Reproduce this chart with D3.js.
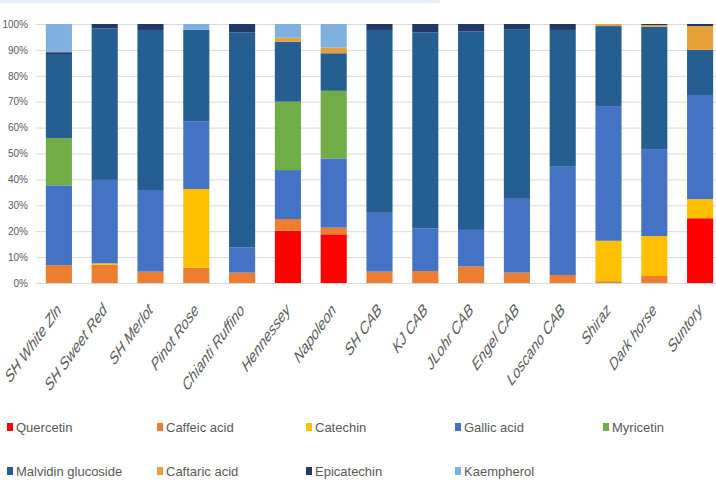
<!DOCTYPE html>
<html>
<head>
<meta charset="utf-8">
<script src="https://cdn.jsdelivr.net/npm/d3@7"></script>
<style>
  html, body { margin: 0; padding: 0; background: #ffffff; }
  svg { display: block; }
  text { font-family: "Liberation Sans", Arial, sans-serif; fill: #595959; }
</style>
</head>
<body>
<svg id="chart" width="716" height="483"></svg>
<script>
const categories = ["SH White Zln", "SH Sweet Red", "SH Merlot", "Pinot Rose", "Chianti Ruffino", "Hennessey", "Napoleon", "SH CAB", "KJ CAB", "JLohr CAB", "Engel CAB", "Loscano CAB", "Shiraz", "Dark horse", "Suntory"];
const seriesNames = ["Quercetin", "Caffeic acid", "Catechin", "Gallic acid", "Myricetin", "Malvidin glucoside", "Caftaric acid", "Epicatechin", "Kaempherol"];
const seriesColors = ["#ff0000", "#ed7d31", "#ffc000", "#4472c4", "#70ad47", "#255e91", "#e8a03a", "#203864", "#7fb0df"];
const quercetin   = [0, 0, 0, 0, 0, 20.2, 18.8, 0, 0, 0, 0, 0, 0, 0, 25];
const caffeicAcid = [6.9, 7, 4.4, 5.9, 4, 4.5, 2.6, 4.4, 4.6, 6.4, 4, 3.1, 0.7, 2.7, 0];
const catechin    = [0, 0.6, 0, 30.4, 0, 0, 0, 0, 0, 0, 0, 0, 15.6, 15.4, 7.4];
const gallicAcid  = [30.8, 32.2, 31.5, 26.2, 9.8, 18.9, 26.7, 22.7, 16.5, 14.1, 28.5, 41.8, 52, 33.6, 40.2];
const myricetin   = [18.3, 0, 0, 0, 0, 26.4, 26.1, 0, 0, 0, 0, 0, 0, 0, 0];
const malvidin    = [32.1, 58.5, 61.8, 35.2, 83, 23.2, 14.5, 70.6, 75.7, 76.6, 65.5, 52.8, 30.9, 47.3, 17.4];
const caftaricAcid= [0, 0, 0, 0, 0, 1.5, 2.2, 0, 0, 0, 0, 0, 0.8, 0.6, 9.2];
const epicatechin = [1, 1.7, 2.3, 0, 3.2, 0, 0, 2.3, 3.2, 2.9, 2, 2.3, 0, 0.4, 0.8];
const kaempherol  = [10.9, 0, 0, 2.3, 0, 5.3, 9.1, 0, 0, 0, 0, 0, 0, 0, 0];
const yTicks = [0, 10, 20, 30, 40, 50, 60, 70, 80, 90, 100];

const seriesValues = [quercetin, caffeicAcid, catechin, gallicAcid, myricetin, malvidin, caftaricAcid, epicatechin, kaempherol];
const table = categories.map((c, i) => {
  const row = { category: c };
  seriesNames.forEach((s, j) => row[s] = seriesValues[j][i]);
  return row;
});

const svg = d3.select("#chart");

// faint slide band at top
svg.append("rect").attr("x", 0).attr("y", 0).attr("width", 440).attr("height", 3).attr("fill", "#e6f0fa");

const plotLeft = 36, plotTop = 24, plotBottom = 283;
const x = d3.scaleBand().domain(categories).range([plotLeft, plotLeft + 15 * 45.8]).paddingInner(0.43).paddingOuter(0.215);
const y = d3.scaleLinear().domain([0, 100]).range([plotBottom, plotTop]);

// gridlines
svg.append("g").selectAll("line").data(yTicks).join("line")
  .attr("x1", plotLeft).attr("x2", 716)
  .attr("y1", d => y(d) + 0.5).attr("y2", d => y(d) + 0.5)
  .attr("stroke", "#d9d9d9").attr("stroke-width", 1);

// y axis labels
const yAxis = d3.axisLeft(y).tickValues(yTicks).tickFormat(d => d + "%").tickSize(0).tickPadding(8);
const ya = svg.append("g").attr("transform", `translate(${plotLeft},0)`).call(yAxis);
ya.select(".domain").remove();
ya.selectAll("text").attr("font-size", 10).style("font-family", "'Liberation Sans', Arial, sans-serif").attr("fill", "#7f7f7f");

// stacks
const stack = d3.stack().keys(seriesNames)(table);
svg.append("g").selectAll("g").data(stack).join("g")
  .attr("fill", (d, i) => seriesColors[i])
  .selectAll("rect").data(d => d).join("rect")
  .attr("x", d => x(d.data.category))
  .attr("width", x.bandwidth())
  .attr("y", d => y(d[1]))
  .attr("height", d => Math.max(0, y(d[0]) - y(d[1])));

// x axis labels (slanted, vertically stretched like the reference)
const xAxis = d3.axisBottom(x).tickSize(0).tickPadding(0);
const xa = svg.append("g").attr("transform", `translate(0,${plotBottom})`).call(xAxis);
xa.select(".domain").remove();
xa.selectAll("text")
  .attr("font-size", 12.5)
  .attr("font-style", "italic")
  .attr("fill", "#7f7f7f")
  .style("font-family", "'Liberation Sans', Arial, sans-serif")
  .attr("text-anchor", "end")
  .attr("y", 0)
  .attr("dy", 0)
  .attr("transform", "translate(3,28) scale(1,1.4) rotate(-45)");

// legend
const legendPos = [
  [7, 427], [157, 427], [306, 427], [455, 427], [603, 427],
  [7, 471], [157, 471], [306, 471], [455, 471]
];
const lg = svg.append("g").selectAll("g").data(seriesNames).join("g")
  .attr("transform", (d, i) => `translate(${legendPos[i][0]},${legendPos[i][1]})`);
lg.append("rect").attr("x", 0).attr("y", -4).attr("width", 6).attr("height", 8).attr("fill", (d, i) => seriesColors[i]);
lg.append("text").attr("x", 9).attr("y", 5).attr("font-size", 13).attr("fill", "#595959").text(d => d);
</script>
</body>
</html>
